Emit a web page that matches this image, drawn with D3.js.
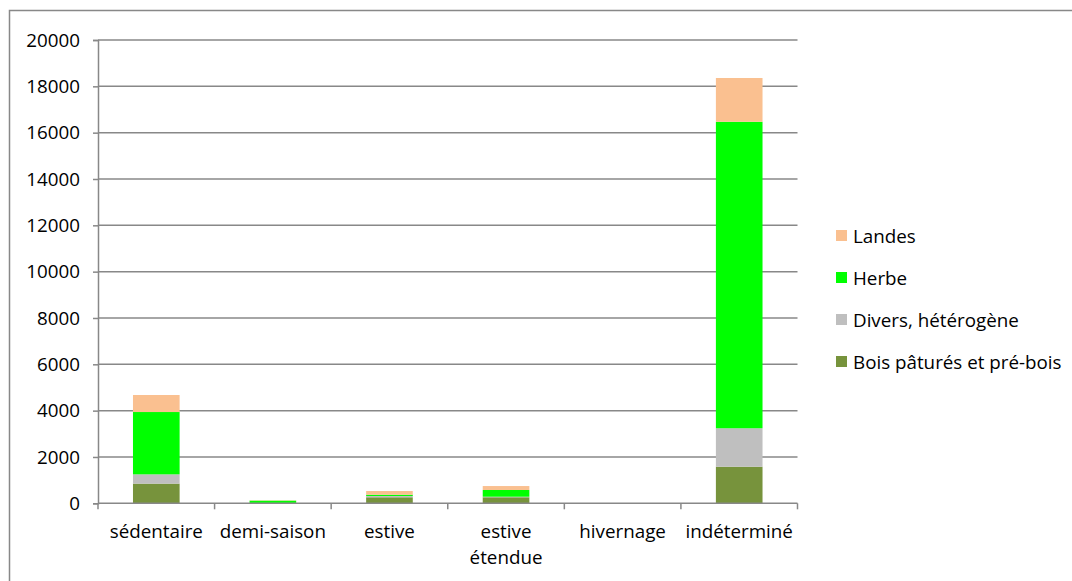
<!DOCTYPE html>
<html><head><meta charset="utf-8">
<script src="https://cdn.jsdelivr.net/npm/d3@7"></script>
<style>
html,body{margin:0;padding:0;background:#fff;overflow:hidden}
text{font-family:"Open Sans",sans-serif;fill:#000}
</style></head>
<body>
<svg id="c" width="1072" height="581"></svg>
<script>
const categories = ["sédentaire","demi-saison","estive","estive\nétendue","hivernage","indéterminé"];
const seriesNames = ["Bois pâturés et pré-bois","Divers, hétérogène","Herbe","Landes"];
const bois   = [850, 10, 260, 260, 0, 1580];
const divers = [400, 5, 55, 25, 0, 1660];
const herbe  = [2690, 100, 55, 290, 0, 13230];
const landes = [735, 15, 160, 170, 0, 1890];
const seriesColors = ["#77933C","#BFBFBF","#00FF00","#FAC090"];
const yTicks = [0,2000,4000,6000,8000,10000,12000,14000,16000,18000,20000];

(function(){
const svg = d3.select("#c");
const pLeft = 98, pRight = 797.5, pTop = 40, pBottom = 503.3;
const fs = 18.8;

// outer border
svg.append("rect").attr("x",9.5).attr("y",10.5).attr("width",1100).attr("height",700)
  .attr("fill","none").attr("stroke","#888").attr("stroke-width",1.5);

const x = d3.scaleBand().domain(categories).range([pLeft,pRight]).paddingInner(0.6).paddingOuter(0.3);
const y = d3.scaleLinear().domain([0,20000]).range([pBottom,pTop]);

// gridlines
svg.append("g").selectAll("line").data(yTicks.filter(d=>d>0)).join("line")
  .attr("x1",pLeft).attr("x2",pRight).attr("y1",d=>y(d)).attr("y2",d=>y(d))
  .attr("stroke","#888").attr("stroke-width",1.5);

// stacked bars
const table = categories.map((c,i)=>({cat:c, s0:bois[i], s1:divers[i], s2:herbe[i], s3:landes[i]}));
const stack = d3.stack().keys(["s0","s1","s2","s3"])(table);
svg.append("g").selectAll("g").data(stack).join("g").attr("fill",(d,i)=>seriesColors[i])
  .selectAll("rect").data(d=>d).join("rect")
  .attr("x",d=>x(d.data.cat)).attr("width",x.bandwidth())
  .attr("y",d=>y(d[1])).attr("height",d=>Math.max(0,y(d[0])-y(d[1])));

// y axis
const yAxis = d3.axisLeft(y).tickValues(yTicks).tickSize(5).tickPadding(13).tickFormat(d3.format("d"));
const ya = svg.append("g").attr("transform",`translate(${pLeft},0)`).call(yAxis);
ya.select(".domain").attr("stroke","#888").attr("stroke-width",1.5);
ya.selectAll(".tick line").attr("stroke","#888").attr("stroke-width",1.5);
ya.selectAll(".tick text").style("font-family","'Open Sans',sans-serif").style("font-size",fs+"px").attr("fill","#000");

// x axis baseline & ticks at band boundaries
svg.append("line").attr("x1",pLeft).attr("x2",pRight).attr("y1",pBottom).attr("y2",pBottom)
  .attr("stroke","#888").attr("stroke-width",1.5);
const bounds = categories.map(c=>x(c)-x.step()*0.3).concat([pRight]);
svg.append("g").selectAll("line").data(bounds).join("line")
  .attr("x1",d=>d).attr("x2",d=>d).attr("y1",pBottom).attr("y2",pBottom+6)
  .attr("stroke","#888").attr("stroke-width",1.5);
const xl = svg.append("g").selectAll("text").data(categories).join("text")
  .attr("text-anchor","middle").style("font-size",fs+"px")
  .attr("x",d=>x(d)+x.bandwidth()/2).attr("y",538);
xl.each(function(d){
  const parts = d.split("\n");
  d3.select(this).selectAll("tspan").data(parts).join("tspan")
    .attr("x",x(d)+x.bandwidth()/2).attr("dy",(p,i)=>i?26:0).text(p=>p);
});

// legend (top to bottom: Landes, Herbe, Divers, Bois)
const legOrder = [3,2,1,0];
const lg = svg.append("g").selectAll("g").data(legOrder).join("g")
  .attr("transform",(d,i)=>`translate(836,${236+i*42})`);
lg.append("rect").attr("x",0).attr("y",-6).attr("width",11).attr("height",11).attr("fill",d=>seriesColors[d]);
lg.append("text").attr("x",17).attr("y",0).attr("dy","0.35em").style("font-size",fs+"px").text(d=>seriesNames[d]);
})();
</script>
</body></html>
